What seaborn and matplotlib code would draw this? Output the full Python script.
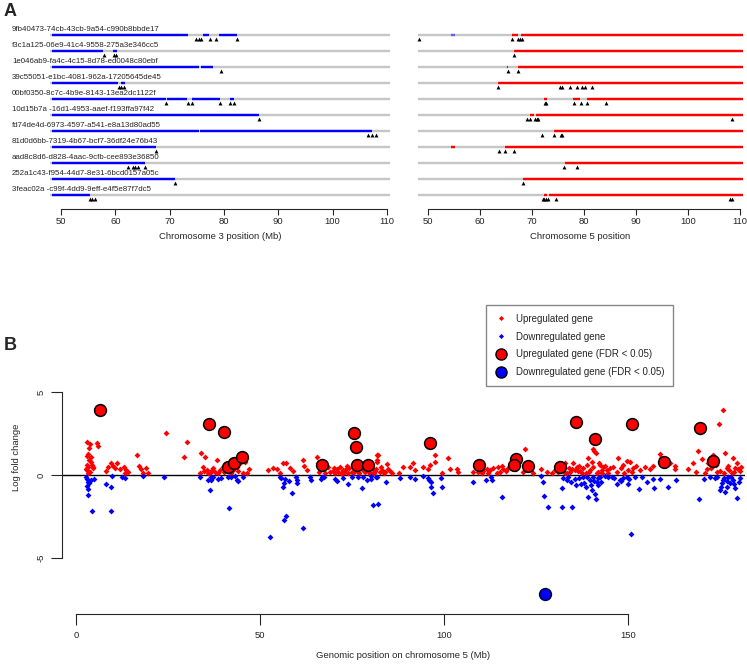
import numpy as np
import pandas as pd
import seaborn as sns
import matplotlib
matplotlib.use("Agg")
import matplotlib.pyplot as plt
from matplotlib.lines import Line2D

sns.set_style("white")
plt.rcParams['font.family'] = ['Liberation Sans', 'DejaVu Sans']

# ---------------- panel A data ----------------
samples = [
    "9fb40473-74cb-43cb-9a54-c990b8bbde17",
    "f3c1a125-06e9-41c4-9558-275a3e346cc5",
    "1e046ab9-fa4c-4c15-8d78-ed0048c80ebf",
    "39c55051-e1bc-4081-962a-17205645de45",
    "00bf0350-8c7c-4b9e-8143-13ea2dc1122f",
    "10d15b7a -16d1-4953-aaef-f193ffa97f42",
    "fd74de4d-6973-4597-a541-e8a13d80ad55",
    "81d0d6bb-7319-4b67-bcf7-36df24e76b43",
    "aad8c8d6-d828-4aac-9cfb-cee893e36850",
    "252a1c43-f954-44d7-8e31-6bcd0157a05c",
    "3feac02a -c99f-4dd9-9eff-e4f5e87f7dc5",
]
chr_start, chr_end = 48.0, 110.5

# chromosome 3: deleted (blue) segments and breakpoints
chr3_loss = [
    [(48.3, 73.4), (76.2, 77.2), (79.0, 82.4)],
    [(48.3, 57.8), (59.6, 60.3)],
    [(48.3, 75.4), (75.8, 78.0)],
    [(48.3, 60.5), (61.0, 61.7)],
    [(48.3, 69.4), (69.5, 73.2), (74.1, 79.2), (81.2, 81.8)],
    [(48.3, 86.5)],
    [(48.3, 75.4), (75.6, 107.3)],
    [(48.3, 67.5)],
    [(48.3, 65.4)],
    [(48.3, 70.9)],
    [(48.3, 55.3)],
]
chr3_breaks = [
    [74.9, 75.4, 75.8, 77.5, 78.6, 82.4],
    [57.9, 59.8, 60.2],
    [79.5],
    [60.7, 61.1, 61.6],
    [69.4, 73.4, 74.1, 79.2, 81.2, 81.8],
    [86.5],
    [106.6, 107.2, 108.0],
    [67.5],
    [62.3, 63.2, 63.7, 64.2, 65.4],
    [70.9],
    [55.3, 55.8, 56.2],
]

# chromosome 5: gained (red) segments, small losses and breakpoints
chr5_gain = [
    [(66.1, 67.4), (67.8, 110.5)],
    [(66.6, 110.5)],
    [(65.2, 65.4), (67.4, 110.5)],
    [(63.5, 110.5)],
    [(72.4, 72.8), (77.9, 79.2), (80.5, 110.5)],
    [(69.6, 70.4), (70.8, 110.5)],
    [(74.2, 110.5)],
    [(54.4, 55.2), (64.8, 110.5)],
    [(76.3, 110.5)],
    [(68.3, 110.5)],
    [(72.3, 72.9), (73.2, 110.5)],
]
chr5_loss = [[(54.4, 55.1)], [], [], [], [], [], [], [], [], [], []]
chr5_breaks = [
    [48.3, 66.1, 67.4, 67.7, 68.1],
    [66.6],
    [65.3, 67.4],
    [63.5, 75.3, 75.8, 77.4, 78.6, 79.7, 80.2, 81.6],
    [72.5, 72.7, 78.1, 79.4, 80.5, 84.2],
    [69.1, 69.7, 70.6, 70.9, 71.2, 108.5],
    [71.9, 74.2, 75.5, 75.7],
    [63.7, 64.8, 66.6],
    [76.2, 78.6],
    [68.3],
    [72.1, 72.4, 72.6, 73.1, 74.7, 108.1, 108.4],
]

# ---------------- panel B data ----------------
up_pos = [3.1, 3.8, 3.6, 3.4, 3.1, 4.0, 3.6, 2.9, 4.3, 3.4, 4.5, 3.1, 3.8, 4.7, 2.7, 4.2, 3.3,
          5.6, 6.0, 8.2, 8.8, 9.4, 10.0, 10.6, 11.2, 12.0, 13.0, 13.6, 14.2, 13.3,
          16.5, 17.2, 17.6, 19.0, 19.7, 18.3, 24.4, 29.4, 30.1,
          34.1, 35.1, 38.2, 34.6, 35.5, 37.3, 39.1, 40.9, 42.8, 44.6, 45.9, 47.1, 33.7, 36.4,
          38.7, 39.9, 41.8, 43.8, 45.3,
          52.3, 53.6, 54.5, 56.3, 57.2, 58.2, 59.1, 55.4, 61.8, 62.0, 62.7, 65.4, 65.8, 67.2,
          68.6, 69.9, 70.8, 71.7, 72.6, 73.6, 74.3, 74.9, 77.2, 78.1, 79.0, 80.3, 81.3, 81.9,
          81.7, 75.4, 76.7, 80.8, 72.0, 73.0, 70.3, 79.5,
          82.2, 84.4, 81.7, 80.8, 83.1, 84.0, 85.3, 87.9, 88.9, 90.8, 91.7, 92.1, 94.4, 95.7,
          96.2, 97.6, 97.6, 99.4, 101.2, 101.6, 103.6, 103.9, 108.0, 110.7, 111.6, 112.5,
          114.3, 114.8, 115.7, 116.1, 119.7, 121.6, 122.1, 122.5, 124.3, 126.5, 127.9, 129.3,
          130.2, 132.9, 134.2, 135.1, 136.1, 137.0, 137.9, 139.2, 140.1, 140.4, 140.8, 141.3,
          142.4, 143.3, 144.2, 146.0, 147.4, 148.7, 149.6, 150.5, 151.5, 153.3, 154.6, 156.0,
          156.9, 158.7, 158.9, 161.4, 162.8, 162.8, 166.4, 167.8, 169.1, 169.6, 170.0, 171.4,
          171.8, 173.2, 174.8, 175.7, 176.4, 176.8, 178.6, 179.5, 180.0, 180.4,
          133.5, 134.8, 136.5, 138.5, 139.8, 141.8, 142.9, 143.8, 176.0, 177.5, 178.2, 179.0,
          174.3, 81.0, 82.8, 83.6,
          34.8, 35.8, 36.9, 37.8, 40.3, 41.2, 42.2, 44.1, 46.5,
          66.0, 67.8, 68.9, 70.0, 71.2, 72.3, 73.3, 74.0, 75.8, 76.9, 77.8, 78.6, 80.0, 81.4,
          82.5, 84.8, 85.8,
          109.2, 110.2, 112.0, 113.4, 115.2, 116.8, 117.5,
          131.0, 132.0, 133.0, 134.0, 135.6, 136.8, 137.5, 138.8, 139.5, 140.6, 141.6, 142.0,
          143.0, 144.6, 145.2,
          147.0, 148.0, 149.0, 150.0, 151.0, 152.2,
          168.5, 170.8, 172.5, 173.8, 175.0, 177.2, 178.9, 180.8]
up_lfc = [1.98, 1.86, 1.62, 1.27, 1.15, 1.07, 0.91, 0.61, 0.61, 0.46, 0.40, 0.30, 0.20, 0.46,
          0.34, 0.81, 0.10,
          1.92, 1.76, 0.26, 0.46, 0.71, 0.55, 0.40, 0.75, 0.34, 0.46, 0.30, 0.18, 0.10,
          1.21, 0.55, 0.34, 0.40, 0.14, 0.10, 2.57, 1.11, 2.02,
          1.35, 1.07, 0.91, 0.46, 0.30, 0.40, 0.30, 0.61, 0.30, 0.71, 0.81, 0.34, 0.14, 0.14,
          0.10, 0.46, 0.20, 0.46, 0.14,
          0.30, 0.40, 0.34, 0.71, 0.71, 0.40, 0.26, 0.14, 0.91, 0.55, 0.30, 1.11, 0.75, 0.40,
          0.46, 0.26, 0.34, 0.46, 0.30, 0.55, 0.40, 0.20, 0.46, 0.30, 0.55, 0.40, 0.26, 1.21,
          0.91, 0.10, 0.20, 0.10, 0.10, 0.20, 0.15, 0.20,
          1.21, 0.65, 0.81, 0.34, 0.30, 0.20, 0.26, 0.10, 0.46, 0.46, 0.71, 0.30, 0.46, 0.34,
          0.61, 1.21, 0.81, 0.10, 1.01, 0.34, 0.34, 0.20, 0.20, 0.26, 0.34, 0.30,
          0.14, 0.46, 0.55, 0.34, 0.34, 0.20, 1.58, 0.55, 0.14, 0.34, 0.20, 0.10,
          0.30, 0.75, 0.20, 0.71, 0.46, 0.26, 0.40, 1.01, 0.81, 1.58, 1.47, 1.35,
          0.61, 0.46, 0.30, 0.46, 1.01, 0.61, 0.87, 0.81, 0.40, 0.30, 0.46, 0.34,
          0.55, 1.27, 1.01, 0.71, 0.55, 0.34, 0.34, 0.75, 1.47, 2.63, 0.95, 0.34,
          0.71, 1.21, 3.07, 3.94, 1.35, 0.40, 1.01, 0.71, 0.34, 0.26,
          0.15, 0.35, 0.25, 0.12, 0.30, 0.20, 0.10, 0.55, 0.15, 0.30, 0.10, 0.45,
          0.20, 0.15, 0.50, 0.10,
          0.22, 0.12, 0.28, 0.18, 0.20, 0.32, 0.12, 0.24, 0.10,
          0.20, 0.12, 0.18, 0.45, 0.18, 0.08, 0.35, 0.12, 0.30, 0.10, 0.40, 0.18, 0.08, 0.35,
          0.20, 0.35, 0.12,
          0.20, 0.12, 0.15, 0.40, 0.18, 0.25, 0.45,
          0.20, 0.35, 0.10, 0.45, 0.30, 0.55, 0.15, 0.60, 0.20, 0.50, 0.12, 0.75,
          0.30, 0.15, 0.40,
          0.20, 0.45, 0.10, 0.30, 0.20, 0.55,
          0.20, 0.15, 0.40, 0.60, 0.25, 0.55, 0.20, 0.50]

down_pos = [2.7, 3.1, 3.4, 3.6, 3.1, 3.3, 3.4, 4.3, 4.9, 4.0, 8.2, 9.4, 9.6, 9.7, 12.4, 13.3,
            18.3, 24.0, 33.7, 36.0, 36.6, 36.4, 37.3, 38.7, 41.4, 41.6, 43.2, 43.8, 44.1, 45.5,
            52.7, 55.4, 56.3, 56.6, 56.8, 56.5, 57.2, 58.6, 59.8, 60.0, 60.1, 61.6, 63.6, 63.8,
            66.5, 66.8, 70.4, 71.0, 74.0, 74.9, 77.6, 77.9, 80.1, 80.8, 81.5, 82.1,
            80.3, 81.7, 84.2, 88.0, 90.8, 92.1, 94.4, 95.7, 96.0, 96.6, 96.4, 96.9, 99.2, 99.4,
            107.8, 111.4, 112.7, 113.0, 115.9, 126.5, 127.0, 127.2, 128.4, 132.0, 134.7, 132.2,
            132.4, 133.3, 135.6, 135.9, 137.9, 138.1, 138.6, 139.2, 139.7, 140.1, 140.6, 141.0,
            141.2, 141.5, 141.9, 142.4, 143.8, 145.6, 146.9, 147.8, 148.7, 149.6, 149.9, 150.9,
            153.1, 153.7, 155.3, 156.9, 157.1, 158.7, 160.8, 163.0, 169.4, 170.7, 172.3, 173.6,
            175.0, 175.5, 175.9, 176.4, 176.8, 177.3, 177.7, 178.6, 179.1, 179.5, 180.1,
            36.8, 39.5, 42.0, 55.8, 57.8, 67.5, 72.5, 76.5, 79.0,
            133.8, 134.5, 136.8, 137.3, 138.9, 139.9, 140.9, 141.8, 142.8, 144.5,
            146.2, 148.2, 150.2, 151.8,
            174.2, 175.2, 176.0, 177.0, 178.0, 178.9, 180.5]
down_lfc = [-0.10, -0.26, -0.40, -0.51, -0.67, -0.87, -1.21, -2.18, -0.24, -0.30, -0.53, -0.75,
            -2.18, -0.06, -0.10, -0.16, -0.04, -0.14, -0.10, -0.30, -0.30, -0.91, -0.10, -0.24,
            -0.10, -1.98, -0.05, -0.30, -0.36, -0.10,
            -3.78, -0.10, -0.75, -0.51, -0.26, -2.73, -2.46, -1.07, -0.14, -0.30, -0.51, -3.21,
            -0.14, -0.30, -0.24, -0.10, -0.26, -0.34, -0.55, -0.10, -0.81, -0.10, -0.26, -1.82,
            -0.10, -1.76,
            -0.06, -0.10, -0.40, -0.20, -0.10, -0.24, -0.04, -0.20, -0.30, -0.40, -0.71, -1.07,
            -0.20, -0.75, -0.40, -0.30, -0.10, -0.30, -1.31, -0.05, -0.40, -1.27, -1.96, -1.96,
            -1.96, -0.81, -0.20, -0.30, -0.24, -0.61, -0.10, -0.51, -0.71, -1.35, -0.30, -0.91,
            -0.14, -1.17, -1.47, -0.40, -0.61, -0.10, -0.04, -0.10, -0.55, -0.30, -0.20, -0.10,
            -0.57, -3.60, -0.85, -0.10, -0.44, -0.26, -0.77, -0.26, -0.75, -0.30, -1.47, -0.24,
            -0.10, -0.20, -0.91, -0.51, -0.30, -1.01, -0.71, -0.10, -0.51, -0.30, -0.81, -1.41,
            -0.40,
            -0.15, -0.20, -0.12, -0.20, -0.35, -0.15, -0.20, -0.15, -0.30,
            -0.12, -0.45, -0.20, -0.55, -0.15, -0.60, -0.35, -0.20, -0.45, -0.15,
            -0.20, -0.35, -0.25, -0.15,
            -0.15, -0.70, -0.20, -0.35, -0.15, -0.55, -0.20]

sig_up_pos = [6.5, 36.2, 40.2, 41.2, 43.0, 45.1, 66.8, 75.6, 76.0, 76.3, 79.3, 96.2, 109.6,
              119.5, 119.1, 122.8, 131.5, 136.0, 141.1, 151.1, 159.8, 169.6, 173.0]
sig_up_lfc = [3.94, 3.09, 2.59, 0.50, 0.75, 1.07, 0.60, 2.53, 1.68, 0.60, 0.60, 1.92, 0.59,
              0.99, 0.59, 0.57, 0.50, 3.21, 2.16, 3.09, 0.77, 2.87, 0.85]
sig_down_pos = [127.4]
sig_down_lfc = [-7.18]

W, H = 747, 664
fig = plt.figure(figsize=(W / 100, H / 100), dpi=100)


def px_axes(l, t, r, b):
    return fig.add_axes([l / W, 1 - b / H, (r - l) / W, (b - t) / H])


def draw_track(ax, segs_main, color, segs_other, other_color, breaks, xlabel):
    for i in range(len(samples)):
        ax.hlines(i, chr_start, chr_end, color='#c6c6c6', lw=1.7)
        for s, e in segs_main[i]:
            ax.hlines(i, s, e, color=color, lw=1.7)
        for s, e in segs_other[i]:
            ax.hlines(i, s, e, color=other_color, lw=1.7)
    bp = pd.DataFrame([(b, i + 0.22) for i in range(len(samples)) for b in breaks[i]],
                      columns=['pos', 'row'])
    sns.scatterplot(data=bp, x='pos', y='row', marker='^', s=8, color='black',
                    linewidth=0, ax=ax, legend=False)
    ax.set_xlim(47.5, 111)
    ax.set_ylim(10.875, -0.9375)
    ax.set_yticks([])
    for sp in ['left', 'top', 'right']:
        ax.spines[sp].set_visible(False)
    ax.spines['bottom'].set_bounds(50, 110)
    ax.spines['bottom'].set_linewidth(0.8)
    ax.set_xticks(range(50, 111, 10))
    ax.tick_params(axis='x', direction='out', length=4, width=0.8, labelsize=6.8, pad=2,
                   bottom=True)
    ax.set_xlabel(xlabel, fontsize=6.8, labelpad=4)
    ax.set_ylabel('')
    ax.patch.set_alpha(0)


axL = px_axes(47.4, 20, 392.4, 209)
draw_track(axL, chr3_loss, '#0000ff', [[] for _ in samples], '#0000ff', chr3_breaks,
           'Chromosome 3 position (Mb)')
for i, name in enumerate(samples):
    axL.text(41.0, i - 0.34, name, fontsize=5.7, va='center', ha='left', clip_on=False)

axR = px_axes(415, 20, 745.2, 209)
draw_track(axR, chr5_gain, '#ff0000', chr5_loss, '#6060ff', chr5_breaks,
           'Chromosome 5 position')

# ---------------- panel B ----------------
axB = px_axes(62, 300, 745, 614)
axB.axhline(0, color='black', lw=1.0, zorder=1)
up = pd.DataFrame({'pos': up_pos, 'lfc': up_lfc})
down = pd.DataFrame({'pos': down_pos, 'lfc': down_lfc})
sig_up = pd.DataFrame({'pos': sig_up_pos, 'lfc': sig_up_lfc})
sig_down = pd.DataFrame({'pos': sig_down_pos, 'lfc': sig_down_lfc})
sns.scatterplot(data=up, x='pos', y='lfc', marker='D', s=9, color='#ff0000', linewidth=0,
                ax=axB, zorder=2)
sns.scatterplot(data=down, x='pos', y='lfc', marker='D', s=9, color='#0000ff', linewidth=0,
                ax=axB, zorder=2)
sns.scatterplot(data=sig_up, x='pos', y='lfc', marker='o', s=72, color='#ff0000',
                edgecolor='black', linewidth=1.1, ax=axB, zorder=3)
sns.scatterplot(data=sig_down, x='pos', y='lfc', marker='o', s=72, color='#0000ff',
                edgecolor='#000033', linewidth=1.1, ax=axB, zorder=3)

axB.set_xlim(-3.8, 181.8)
axB.set_ylim(-8.42, 10.6)
for sp in ['top', 'right']:
    axB.spines[sp].set_visible(False)
axB.spines['left'].set_bounds(-5, 5)
axB.spines['bottom'].set_bounds(0, 150)
axB.spines['left'].set_linewidth(0.8)
axB.spines['bottom'].set_linewidth(0.8)
axB.set_xticks([0, 50, 100, 150])
axB.set_yticks([-5, 0, 5])
axB.set_yticklabels(['-5', '0', '5'], rotation=90, va='center')
axB.tick_params(axis='both', direction='out', length=8, width=0.8, labelsize=6.8,
                left=True, bottom=True)
axB.tick_params(axis='x', pad=4)
axB.tick_params(axis='y', pad=4)
axB.set_xlabel('Genomic position on chromosome 5 (Mb)', fontsize=6.8, labelpad=8)
axB.set_ylabel('Log fold change', fontsize=6.8, labelpad=11)

handles = [
    Line2D([], [], ls='', marker='D', ms=2.6, color='#ff0000', mec='none'),
    Line2D([], [], ls='', marker='D', ms=2.6, color='#0000ff', mec='none'),
    Line2D([], [], ls='', marker='o', ms=8, mfc='#ff0000', mec='black', mew=1.0),
    Line2D([], [], ls='', marker='o', ms=8, mfc='#0000ff', mec='black', mew=1.0),
]
labels = ['Upregulated gene', 'Downregulated gene', 'Upregulated gene (FDR < 0.05)',
          'Downregulated gene (FDR < 0.05)']
fig.legend(handles, labels, loc='upper left', bbox_to_anchor=(486 / W, 1 - 305 / H),
           fontsize=7, frameon=True, fancybox=False, edgecolor='#888888', framealpha=1,
           handlelength=1.2, handletextpad=1.0, labelspacing=0.8, borderpad=0.9,
           borderaxespad=0)

fig.text(4 / W, 1 - 3 / H, 'A', fontsize=13, fontweight='bold', va='top', ha='left')
fig.text(4 / W, 1 - 337 / H, 'B', fontsize=13, fontweight='bold', va='top', ha='left')

fig.savefig('out.png', dpi=100)
